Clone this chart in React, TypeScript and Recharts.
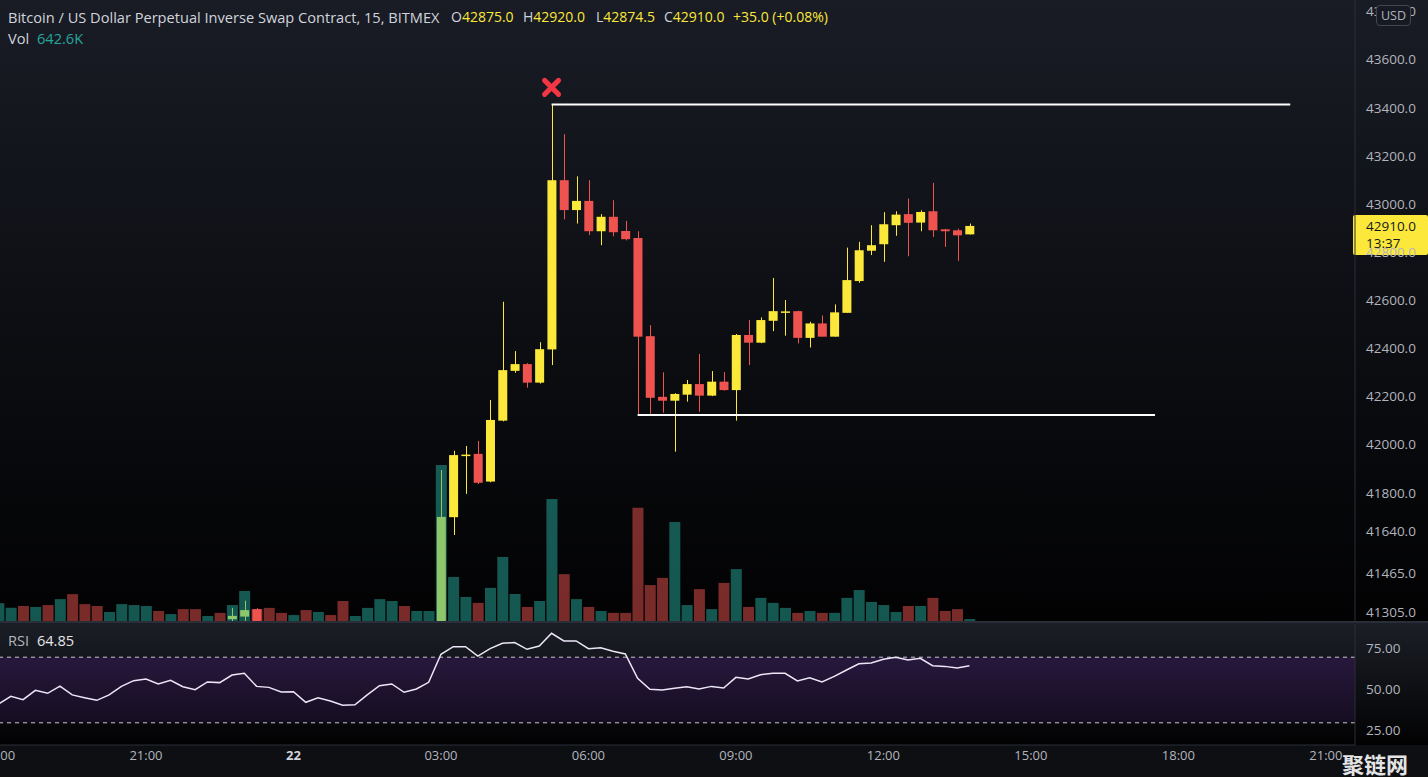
import React from 'react';
import { ComposedChart, Bar, Line, XAxis, YAxis, Cell, ReferenceLine, ReferenceDot, ReferenceArea } from 'recharts';

// ---------- DATA (15-minute bars, index 0 = 18:00 of the previous day) ----------
const opens: (number | null)[] = [
  null, null, null, null, null, null, null, null, null, null,
  null, null, null, null, null, null, null, null, null, 41276,
  41287, 41318, null, null, null, null, null, null, null, null,
  null, null, null, null, null, null, 41250, 41700, 41955, 41963,
  41848, 42101, 42308, 42336, 42259, 42397, 43100, 42976, 43014, 42888,
  42948, 42889, 42860, 42452, 42200, 42184, 42209, 42253, 42205, 42263,
  42228, 42457, 42425, 42516, 42553, 42556, 42445, 42505, 42450, 42549,
  42681, 42807, 42834, 42913, 42959, 42924, 42971, 42896, 42892, 42875,
];
const highs: (number | null)[] = [
  null, null, null, null, null, null, null, null, null, null,
  null, null, null, null, null, null, null, null, null, 41323,
  41353, 41322, null, null, null, null, null, null, null, null,
  null, null, null, null, null, null, 41896, 41976, 41996, 42017,
  42187, 42595, 42390, 42340, 42427, 43415, 43291, 43116, 43100, 42959,
  43017, 42931, 42888, 42498, 42302, 42215, 42270, 42378, 42307, 42303,
  42461, 42519, 42530, 42694, 42602, 42558, 42512, 42538, 42584, 42820,
  42844, 42913, 42967, 42971, 43024, 42975, 43089, 42898, 42899, 42920,
];
const lows: (number | null)[] = [
  null, null, null, null, null, null, null, null, null, null,
  null, null, null, null, null, null, null, null, null, 41260,
  41255, 41200, null, null, null, null, null, null, null, null,
  null, null, null, null, null, null, 41240, 41626, 41797, 41838,
  41845, 42098, 42300, 42238, 42255, 42332, 42937, 42920, 42872, 42830,
  42867, 42850, 42125, 42129, 42134, 41972, 42180, 42138, 42203, 42226,
  42101, 42332, 42423, 42473, 42454, 42422, 42405, 42450, 42450, 42549,
  42674, 42789, 42761, 42869, 42784, 42888, 42864, 42823, 42765, 42874.5,
];
const closes: (number | null)[] = [
  null, null, null, null, null, null, null, null, null, null,
  null, null, null, null, null, null, null, null, null, 41290,
  41314, 41230, null, null, null, null, null, null, null, null,
  null, null, null, null, null, null, 41701, 41958, 41960, 41843,
  42104, 42311, 42336, 42259, 42398, 43100, 42976, 43014, 42888, 42948,
  42884, 42855, 42450, 42196, 42184, 42212, 42253, 42205, 42263, 42228,
  42457, 42425, 42519, 42556, 42555, 42445, 42505, 42450, 42551, 42685,
  42809, 42830, 42917, 42957, 42923, 42968, 42892, 42888, 42871, 42910,
];
// volume in millions of contracts
const volumes: number[] = [
  5.7, 4.2, 4.8, 4.5, 5.1, 7.0, 8.6, 5.4, 4.8, 2.9,
  5.4, 5.1, 4.8, 3.2, 2.2, 3.8, 3.8, 1.6, 2.6, 5.1,
  9.6, 3.8, 4.2, 2.6, 1.9, 3.5, 2.9, 1.9, 6.4, 1.6,
  4.2, 7.0, 6.4, 4.8, 3.2, 3.2, 49.9, 14.1, 7.7, 5.8,
  10.6, 20.5, 8.6, 4.5, 6.4, 39.0, 15.0, 7.0, 4.5, 3.2,
  2.6, 2.6, 36.2, 11.5, 13.8, 31.7, 5.1, 10.2, 3.8, 12.2,
  16.6, 4.5, 7.4, 5.8, 4.2, 2.6, 3.2, 2.6, 2.6, 7.4,
  9.9, 6.1, 5.1, 2.9, 4.8, 4.8, 7.4, 3.2, 3.8, 0.64,
];
// u = up bar, d = down bar
const volumeDirs: string[] = [
  'u', 'u', 'd', 'u', 'd', 'u', 'd', 'd', 'd', 'u',
  'u', 'u', 'u', 'd', 'u', 'd', 'd', 'u', 'd', 'u',
  'u', 'd', 'd', 'd', 'u', 'd', 'u', 'd', 'd', 'u',
  'u', 'u', 'u', 'd', 'u', 'u', 'u', 'u', 'u', 'd',
  'u', 'u', 'u', 'd', 'u', 'u', 'd', 'u', 'd', 'u',
  'd', 'd', 'd', 'd', 'd', 'u', 'u', 'd', 'u', 'd',
  'u', 'd', 'u', 'u', 'u', 'd', 'u', 'd', 'u', 'u',
  'u', 'u', 'u', 'u', 'd', 'u', 'd', 'd', 'd', 'u',
];
const rsiValues: number[] = [
  41.5, 46.1, 44.1, 49.8, 48.0, 52.4, 47.0, 45.3, 43.7, 47.0,
  52.2, 55.7, 56.7, 53.7, 55.9, 52.0, 50.2, 54.9, 54.5, 59.1,
  60.2, 52.2, 51.6, 48.8, 49.0, 42.5, 45.3, 43.3, 40.7, 41.0,
  47.0, 52.6, 53.7, 48.6, 50.6, 54.7, 71.8, 76.4, 76.4, 70.7,
  75.2, 78.5, 78.9, 74.8, 76.8, 84.6, 79.9, 79.9, 75.2, 75.8,
  73.6, 72.0, 57.1, 50.4, 50.0, 51.0, 52.0, 50.6, 52.2, 51.2,
  57.7, 56.7, 59.3, 60.2, 60.2, 55.5, 57.5, 54.9, 58.3, 62.2,
  66.0, 66.5, 68.7, 69.9, 68.3, 69.3, 64.8, 64.4, 63.4, 64.85,
];
const priceTicks: number[] = [43800, 43600, 43400, 43200, 43000, 42800, 42600, 42400, 42200, 42000, 41800, 41640, 41465, 41305];
const rsiTicks: number[] = [25, 50, 75];
const timeTickIndex: number[] = [0, 12, 24, 36, 48, 60, 72, 84, 96, 108];
const timeTickLabels: string[] = ['18:00', '21:00', '22', '03:00', '06:00', '09:00', '12:00', '15:00', '18:00', '21:00'];
// drawn levels: [start bar, end bar]
const highLevelSpan: number[] = [45, 105.1];
const lowLevelSpan: number[] = [52, 94.1];
const markerBar = 45;

// ---------- rows ----------
const rows = volumes.map((v, i) => ({
  i,
  o: opens[i],
  h: highs[i],
  l: lows[i],
  c: closes[i],
  vol: v,
  dir: volumeDirs[i],
  rsi: rsiValues[i],
}));

// ---------- styles ----------
const FONT = '"Open Sans", Roboto, sans-serif';
const YELLOW = '#fce83a';
const RED = '#ef5350';
const AXIS_TEXT = '#b2b5be';
const X_DOMAIN: [number, number] = [0.122, 110.37];
const PRICE_DOMAIN: [number, number] = [41268.7, 43848.7];
const RSI_DOMAIN: [number, number] = [16.46, 90.24];
const AXIS_FS = 13.5;

const Candle = (props: any) => {
  const { x, y, width, height, payload } = props;
  if (!payload || payload.h == null) return null;
  const top = Math.min(y, y + height);
  const bot = Math.max(y, y + height);
  const range = payload.h - payload.l;
  const k = range > 0 ? (bot - top) / range : 0;
  const py = (p: number) => top + (payload.h - p) * k;
  const up = payload.c >= payload.o;
  const color = up ? YELLOW : RED;
  const bTop = py(Math.max(payload.o, payload.c));
  const bBot = py(Math.min(payload.o, payload.c));
  const cx = Math.round(x + width / 2) + 0.5;
  return (
    <g>
      <line x1={cx} x2={cx} y1={top} y2={bot} stroke={color} strokeWidth={1} />
      <rect x={x} y={bTop} width={width} height={Math.max(1.5, bBot - bTop)} fill={color} />
    </g>
  );
};

const PriceTick = (p: any) => (
  <text x={p.x} y={p.y} dy={4.5} fill={AXIS_TEXT} fontSize={AXIS_FS} fontFamily={FONT} textAnchor="start">
    {Number(p.payload.value).toFixed(1)}
  </text>
);
const RsiTick = (p: any) => (
  <text x={p.x} y={p.y} dy={4.5} fill={AXIS_TEXT} fontSize={AXIS_FS} fontFamily={FONT} textAnchor="start">
    {Number(p.payload.value).toFixed(2)}
  </text>
);
const TimeTick = (p: any) => {
  const idx = timeTickIndex.indexOf(p.payload.value);
  const label = timeTickLabels[idx] ?? '';
  const bold = label.length <= 2;
  return (
    <text x={p.x} y={p.y} dy={13} fill={bold ? '#d1d4dc' : AXIS_TEXT} fontSize={13} fontWeight={bold ? 700 : 400} fontFamily={FONT} textAnchor="middle">
      {label}
    </text>
  );
};

const XMarker = (p: any) => {
  const cx = p.cx;
  const cy = p.cy - 17;
  const s = 7;
  return (
    <g stroke="#f23645" strokeWidth={5} strokeLinecap="round">
      <line x1={cx - s} y1={cy - s} x2={cx + s} y2={cy + s} />
      <line x1={cx - s} y1={cy + s} x2={cx + s} y2={cy - s} />
    </g>
  );
};

const lastClose = closes[closes.length - 1] as number;

const PriceLabel = (p: any) => {
  const vb = p.viewBox;
  const x0 = vb.x + vb.width;
  const y0 = vb.y;
  return (
    <g>
      <rect x={x0 - 2} y={y0 - 11} width={75} height={40} fill={YELLOW} rx={2} />
      <text x={x0 + 11} y={y0 + 5} fill="#131722" fontSize={AXIS_FS} fontFamily={FONT}>{lastClose.toFixed(1)}</text>
      <text x={x0 + 11} y={y0 + 22} fill="#131722" fontSize={AXIS_FS} fontFamily={FONT}>13:37</text>
    </g>
  );
};

const legendText: React.CSSProperties = { position: 'absolute', top: 7, fontSize: 14.6, color: '#d1d4dc', whiteSpace: 'nowrap', fontFamily: FONT };

export default function App() {
  return (
    <div style={{ position: 'absolute', left: 0, top: 0, width: 1428, height: 777, overflow: 'hidden', background: '#000', fontFamily: FONT }}>
      {/* pane backgrounds */}
      <div style={{ position: 'absolute', left: 0, top: 0, width: 1428, height: 621, background: 'linear-gradient(180deg, #191c25 0%, #0e1015 45%, #020203 100%)' }} />
      <div style={{ position: 'absolute', left: 0, top: 621, width: 1428, height: 2, background: '#2a2e39' }} />
      <div style={{ position: 'absolute', left: 0, top: 623, width: 1428, height: 122, background: 'linear-gradient(180deg, #1b1e26 0%, #0a0b0e 70%, #020203 100%)' }} />
      <div style={{ position: 'absolute', left: 0, top: 745, width: 1428, height: 32, background: '#0e0f13' }} />

      <div style={{ position: 'absolute', left: 0, top: 0 }}>
        <ComposedChart width={1428} height={621} data={rows} margin={{ top: 0, right: 0, bottom: 0, left: 0 }}>
          <XAxis xAxisId="c" dataKey="i" type="number" domain={X_DOMAIN} allowDataOverflow hide />
          <XAxis xAxisId="v" dataKey="i" type="number" domain={X_DOMAIN} allowDataOverflow hide />
          <YAxis
            yAxisId="p"
            orientation="right"
            width={73}
            domain={PRICE_DOMAIN}
            allowDataOverflow
            ticks={priceTicks}
            interval={0}
            tickLine={false}
            tickSize={0}
            tickMargin={11}
            axisLine={{ stroke: '#2a2e39' }}
            tick={<PriceTick />}
          />
          <YAxis yAxisId="vol" hide domain={[0, 198.7]} allowDataOverflow />
          <Bar
            xAxisId="c"
            yAxisId="p"
            dataKey={(d: any) => (d.h == null ? null : [d.l, d.h])}
            barSize={9}
            shape={<Candle />}
            isAnimationActive={false}
          />
          <Bar xAxisId="v" yAxisId="vol" dataKey="vol" barSize={11} isAnimationActive={false}>
            {rows.map((r) => (
              <Cell key={r.i} fill={r.dir === 'u' ? 'rgba(38,166,154,0.52)' : 'rgba(239,83,80,0.5)'} />
            ))}
          </Bar>
          <ReferenceLine
            xAxisId="c"
            yAxisId="p"
            segment={[{ x: highLevelSpan[0], y: highs[markerBar] as number }, { x: highLevelSpan[1], y: highs[markerBar] as number }]}
            stroke="#ffffff"
            strokeWidth={2}
          />
          <ReferenceLine
            xAxisId="c"
            yAxisId="p"
            segment={[{ x: lowLevelSpan[0], y: lows[lowLevelSpan[0]] as number }, { x: lowLevelSpan[1], y: lows[lowLevelSpan[0]] as number }]}
            stroke="#ffffff"
            strokeWidth={2}
          />
          <ReferenceDot xAxisId="c" yAxisId="p" x={markerBar} y={highs[markerBar] as number} shape={<XMarker />} />
          <ReferenceLine xAxisId="c" yAxisId="p" y={lastClose} stroke="none" label={<PriceLabel />} />
        </ComposedChart>
      </div>

      <div style={{ position: 'absolute', left: 0, top: 624 }}>
        <ComposedChart width={1428} height={153} data={rows} margin={{ top: 0, right: 0, bottom: 0, left: 0 }}>
          <defs>
            <linearGradient id="rsiBand" x1="0" y1="0" x2="0" y2="1">
              <stop offset="0%" stopColor="#27183d" />
              <stop offset="100%" stopColor="#150d20" />
            </linearGradient>
          </defs>
          <XAxis
            dataKey="i"
            type="number"
            domain={X_DOMAIN}
            allowDataOverflow
            ticks={timeTickIndex}
            interval={0}
            height={32}
            tickLine={false}
            tickSize={0}
            axisLine={{ stroke: '#2a2e39' }}
            tick={<TimeTick />}
          />
          <YAxis
            orientation="right"
            width={73}
            domain={RSI_DOMAIN}
            allowDataOverflow
            ticks={rsiTicks}
            interval={0}
            tickLine={false}
            tickSize={0}
            tickMargin={11}
            axisLine={{ stroke: '#2a2e39' }}
            tick={<RsiTick />}
          />
          <ReferenceArea y1={30} y2={70} fill="url(#rsiBand)" fillOpacity={1} stroke="none" />
          <ReferenceLine y={70} stroke="#c8c8d0" strokeDasharray="4 4" />
          <ReferenceLine y={30} stroke="#c8c8d0" strokeDasharray="4 4" />
          <Line dataKey="rsi" stroke="#ece6f7" strokeWidth={1.5} dot={false} isAnimationActive={false} />
        </ComposedChart>
      </div>

      {/* legends / overlays */}
      <div style={{ ...legendText, left: 8 }}>
        Bitcoin / US Dollar Perpetual Inverse Swap Contract, 15, BITMEX
      </div>
      {[
        ['O', opens[79]!.toFixed(1), 451],
        ['H', highs[79]!.toFixed(1), 523],
        ['L', lows[79]!.toFixed(1), 596],
        ['C', closes[79]!.toFixed(1), 664],
      ].map(([k, v, x]) => (
        <div key={k as string} style={{ ...legendText, left: x as number, fontSize: 14 }}>
          {k}<span style={{ color: YELLOW }}>{v}</span>
        </div>
      ))}
      <div style={{ ...legendText, left: 733, color: YELLOW, fontSize: 14 }}>
        +35.0 (+0.08%)
      </div>
      <div style={{ ...legendText, left: 8, top: 28 }}>
        Vol <span style={{ color: '#26a69a', marginLeft: 4 }}>642.6K</span>
      </div>
      <div style={{ ...legendText, left: 8, top: 630, color: '#b2b5be' }}>
        RSI <span style={{ color: '#e6e6ea', marginLeft: 4 }}>64.85</span>
      </div>
      <div style={{ position: 'absolute', left: 1376, top: 5, width: 35, height: 21, border: '1px solid #434651', borderRadius: 4, background: '#171a22', color: '#b2b5be', fontSize: 12.5, lineHeight: '19px', textAlign: 'center', boxSizing: 'border-box' }}>
        USD
      </div>
      <div style={{ position: 'absolute', left: 1342, top: 749, fontSize: 22, fontWeight: 700, color: '#e4e4e4', fontFamily: '"Noto Sans CJK SC", sans-serif', whiteSpace: 'nowrap', lineHeight: '28px' }}>
        聚链网
      </div>
    </div>
  );
}
